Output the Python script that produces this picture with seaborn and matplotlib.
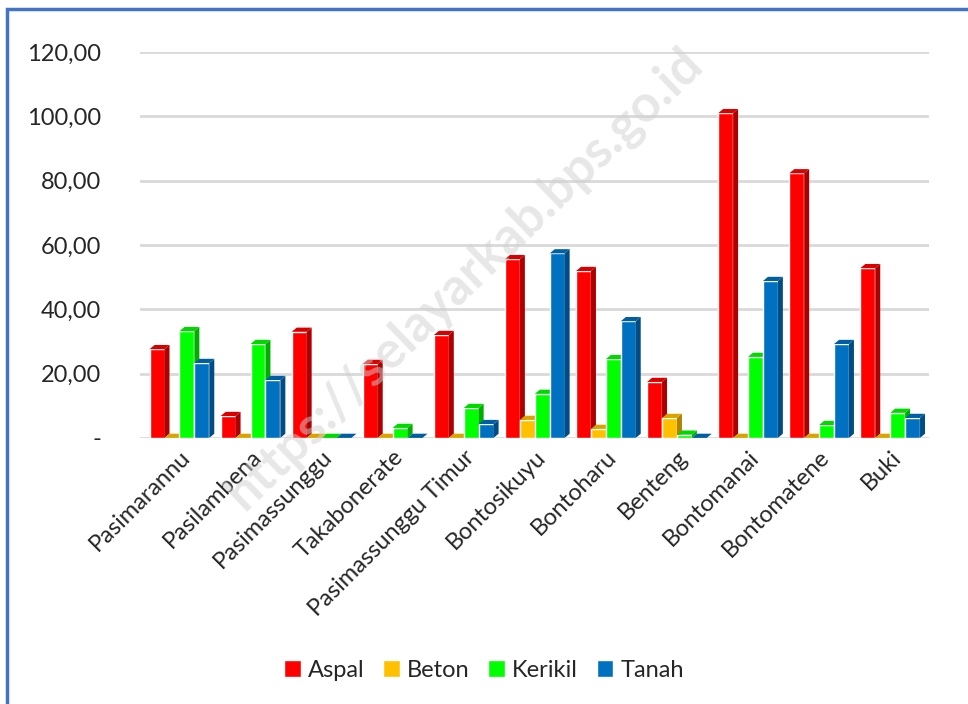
import numpy as np
import pandas as pd
import seaborn as sns
import matplotlib.pyplot as plt
from matplotlib.patches import Polygon, Rectangle
from matplotlib.ticker import FuncFormatter
from matplotlib.colors import to_rgb

kecamatan = ["Pasimarannu", "Pasilambena", "Pasimassunggu", "Takabonerate",
             "Pasimassunggu Timur", "Bontosikuyu", "Bontoharu", "Benteng",
             "Bontomanai", "Bontomatene", "Buki"]
aspal = [27.6, 6.8, 33.0, 23.0, 32.0, 55.6, 51.9, 17.4, 101.0, 82.3, 52.8]
beton = [0.0, 0.0, 0.0, 0.0, 0.0, 5.6, 2.8, 6.2, 0.0, 0.0, 0.0]
kerikil = [33.2, 29.2, 0.0, 3.1, 9.3, 13.7, 24.5, 1.0, 25.2, 4.0, 7.8]
tanah = [23.3, 18.0, 0.0, 0.0, 4.3, 57.4, 36.3, 0.0, 48.8, 29.2, 6.2]

jenis = ["Aspal", "Beton", "Kerikil", "Tanah"]
warna = ["#ff0000", "#ffc000", "#00ff00", "#0070c0"]

df = pd.DataFrame({"Kecamatan": kecamatan, "Aspal": aspal, "Beton": beton,
                   "Kerikil": kerikil, "Tanah": tanah})
long = df.melt(id_vars="Kecamatan", var_name="Jenis", value_name="Panjang")

sns.set_style("white")
plt.rcParams['font.family'] = ['Lato', 'DejaVu Sans']

fig = plt.figure(figsize=(9.68, 7.04), dpi=100)
ax = fig.add_axes([0.145, 0.378, 0.815, 0.548])

sns.barplot(data=long, x="Kecamatan", y="Panjang", hue="Jenis",
            hue_order=jenis, palette=warna, width=0.84, saturation=1,
            ax=ax, legend=False, zorder=3)

ax.set_ylim(0, 120)
ax.set_yticks(range(0, 121, 20))
ax.yaxis.set_major_formatter(FuncFormatter(
    lambda v, p: "-" if v == 0 else f"{v:.2f}".replace(".", ",")))
ax.grid(axis="y", color="#d9d9d9", linewidth=2, zorder=0)
sns.despine(ax=ax, left=True, bottom=True)
ax.tick_params(axis="y", length=0, pad=28, labelsize=17)
ax.tick_params(axis="x", length=0, pad=6, labelsize=17)
ax.set_xlabel("")
ax.set_ylabel("")
plt.setp(ax.get_xticklabels(), rotation=45, ha="right", rotation_mode="anchor")

# pseudo-3D sides and tops for each bar, later series in front
dx = 0.07  # in data units of x
dy = 1.3   # in data units of y
n = len(kecamatan)
for i, bar in enumerate(list(ax.patches)):
    z = 3 + (i // n) * 0.1
    bar.set_zorder(z)
    x0, y0 = bar.get_x(), bar.get_y()
    w, h = bar.get_width(), bar.get_height()
    c = np.array(to_rgb(bar.get_facecolor()))
    side = Polygon([(x0 + w, y0), (x0 + w + dx, y0 + dy),
                    (x0 + w + dx, y0 + h + dy), (x0 + w, y0 + h)],
                   closed=True, facecolor=c * 0.68, edgecolor="none", zorder=z)
    top = Polygon([(x0, y0 + h), (x0 + w, y0 + h),
                   (x0 + w + dx, y0 + h + dy), (x0 + dx, y0 + h + dy)],
                  closed=True, facecolor=c * 0.85,
                  edgecolor="none", zorder=z)
    ax.add_patch(side)
    ax.add_patch(top)
ax.set_xlim(-0.55, n - 0.45)

handles = [Rectangle((0, 0), 1, 1, facecolor=c) for c in warna]
fig.legend(handles, jenis, loc="center", bbox_to_anchor=(0.5, 0.048), ncol=4,
           frameon=False, fontsize=17, handlelength=0.7, handleheight=0.7,
           handletextpad=0.3, columnspacing=0.8)

# watermark
fig.text(0.48, 0.605, "https://selayarkab.bps.go.id", fontsize=37,
         fontweight="bold", color="#d0d0d0", alpha=0.5, rotation=44,
         ha="center", va="center", zorder=0)

# blue frame
fig.add_artist(Rectangle((0.007, -0.1), 1.1, 0.1 + 0.987,
                         transform=fig.transFigure, fill=False,
                         edgecolor="#4472c4", linewidth=2.5))

fig.savefig("out.png", dpi=100)
